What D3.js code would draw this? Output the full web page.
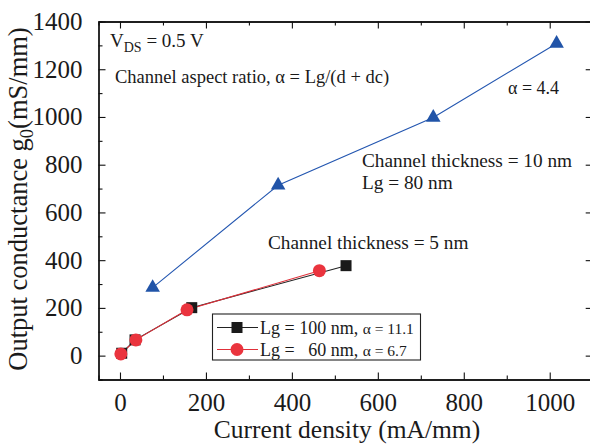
<!DOCTYPE html>
<html>
<head>
<meta charset="utf-8">
<script src="https://cdn.jsdelivr.net/npm/d3@7"></script>
<style>
  body { margin: 0; background: #fff; }
  svg { font-family: "Liberation Serif", "Times New Roman", serif; }
</style>
</head>
<body>
<div id="chart"></div>
<script>
// values
const blueX = [76, 368, 729, 1016];
const blueY = [285, 714, 998, 1308];
const blackX = [4, 35, 167, 526];
const blackY = [10, 66, 201, 377];
const redX = [2, 37, 156, 464];
const redY = [7, 66, 192, 356];

const xTicks = [0, 200, 400, 600, 800, 1000];
const xMinor = [100, 300, 500, 700, 900, 1100];
const yTicks = [0, 200, 400, 600, 800, 1000, 1200, 1400];
const yMinor = [-100, 100, 300, 500, 700, 900, 1100, 1300];

const legendLabels = ["Lg = 100 nm,", "Lg =\u00a0\u00a0 60 nm,"];
const legendAlpha = ["\u03b1 = 11.1", "\u03b1 = 6.7"];

const W = 590, H = 445;
const margin = { top: 21.5, right: -2.7, bottom: 65.5, left: 98.5 },
    width = W - margin.left - margin.right,
    height = H - margin.top - margin.bottom;

const svgRoot = d3.select("#chart")
    .append("svg")
    .attr("width", W)
    .attr("height", H);

const svg = svgRoot.append("g")
    .attr("transform", `translate(${margin.left}, ${margin.top})`);

const x = d3.scaleLinear().domain([-50, 1100]).range([0, width]);
const y = d3.scaleLinear().domain([-100, 1400]).range([height, 0]);

// frame + ticks (pointing inward)
function styleAxis(g) {
    g.select(".domain").attr("stroke", "#111").attr("stroke-width", 1.3);
    g.selectAll(".tick line").attr("stroke", "#111").attr("stroke-width", 1.1);
    g.selectAll("text").attr("font-size", 25).attr("fill", "#1a1a1a")
        .attr("font-family", "Liberation Serif, Times New Roman, serif");
}

svg.append("g")
    .attr("transform", `translate(0, ${height})`)
    .call(d3.axisBottom(x).tickValues(xTicks).tickSizeInner(-7).tickSizeOuter(0).tickPadding(14).tickFormat(d3.format("d")))
    .call(styleAxis);
svg.append("g")
    .attr("transform", `translate(0, ${height})`)
    .call(d3.axisBottom(x).tickValues(xMinor).tickSize(-4).tickFormat(""))
    .call(styleAxis);

svg.append("g")
    .call(d3.axisTop(x).tickValues(xTicks).tickSizeInner(-7).tickSizeOuter(0).tickFormat(""))
    .call(styleAxis);
svg.append("g")
    .call(d3.axisTop(x).tickValues(xMinor).tickSize(-4).tickFormat(""))
    .call(styleAxis);

svg.append("g")
    .call(d3.axisLeft(y).tickValues(yTicks).tickSizeInner(-7).tickSizeOuter(0).tickPadding(16).tickFormat(d3.format("d")))
    .call(styleAxis);
svg.append("g")
    .call(d3.axisLeft(y).tickValues(yMinor).tickSize(-4).tickFormat(""))
    .call(styleAxis);

svg.append("g")
    .attr("transform", `translate(${width}, 0)`)
    .call(d3.axisRight(y).tickValues(yTicks).tickSizeInner(-7).tickSizeOuter(0).tickFormat(""))
    .call(styleAxis);

// series
const blue = blueX.map((d, i) => ({ x: d, y: blueY[i] }));
const black = blackX.map((d, i) => ({ x: d, y: blackY[i] }));
const red = redX.map((d, i) => ({ x: d, y: redY[i] }));

const line = d3.line().x(d => x(d.x)).y(d => y(d.y));

svg.append("path").datum(blue)
    .attr("d", line).attr("fill", "none").attr("stroke", "#2356b0").attr("stroke-width", 1.1);
svg.append("path").datum(black)
    .attr("d", line).attr("fill", "none").attr("stroke", "#222").attr("stroke-width", 1.1);
svg.append("path").datum(red)
    .attr("d", line).attr("fill", "none").attr("stroke", "#e0303a").attr("stroke-width", 1.1);

const tri = d3.symbol().type(d3.symbolTriangle).size(92);
svg.selectAll(".tri").data(blue).join("path")
    .attr("class", "tri")
    .attr("d", tri)
    .attr("transform", d => `translate(${x(d.x)}, ${y(d.y)})`)
    .attr("fill", "#2154a8");

svg.selectAll(".sq").data(black).join("rect")
    .attr("class", "sq")
    .attr("x", d => x(d.x) - 5.5)
    .attr("y", d => y(d.y) - 5.5)
    .attr("width", 11).attr("height", 11)
    .attr("fill", "#1a1a1a");

svg.selectAll(".dot").data(red).join("circle")
    .attr("class", "dot")
    .attr("cx", d => x(d.x))
    .attr("cy", d => y(d.y))
    .attr("r", 6.5)
    .attr("fill", "#ea343e");

// annotations
const ann = svgRoot.append("g").attr("fill", "#1a1a1a");

const vds = ann.append("text").attr("x", 110).attr("y", 47).attr("font-size", 19);
vds.append("tspan").text("V");
vds.append("tspan").attr("font-size", 14).attr("dy", 5).text("DS");
vds.append("tspan").attr("dy", -5).text(" = 0.5 V");

ann.append("text").attr("x", 115).attr("y", 83).attr("font-size", 18.5)
    .text("Channel aspect ratio, \u03b1 = Lg/(d + dc)");

ann.append("text").attr("x", 508).attr("y", 94).attr("font-size", 18)
    .text("\u03b1 = 4.4");

ann.append("text").attr("x", 362).attr("y", 167).attr("font-size", 19.3)
    .text("Channel thickness = 10 nm");
ann.append("text").attr("x", 362).attr("y", 189).attr("font-size", 19.3)
    .text("Lg = 80 nm");

ann.append("text").attr("x", 268).attr("y", 249).attr("font-size", 19.3)
    .text("Channel thickness = 5 nm");

// legend
const leg = svgRoot.append("g");
leg.append("rect")
    .attr("x", 212.5).attr("y", 314).attr("width", 208).attr("height", 46)
    .attr("fill", "#fff").attr("stroke", "#222").attr("stroke-width", 1.1);

const legRows = [
    { color: "#222", mark: "sq" },
    { color: "#e0303a", mark: "dot" }
];
legRows.forEach((r, i) => {
    const cy = 327.5 + i * 22;
    leg.append("line").attr("x1", 217).attr("x2", 258).attr("y1", cy).attr("y2", cy)
        .attr("stroke", r.color).attr("stroke-width", 1.1);
    if (r.mark === "sq") {
        leg.append("rect").attr("x", 231.5).attr("y", cy - 5.5).attr("width", 11).attr("height", 11)
            .attr("fill", "#1a1a1a");
    } else {
        leg.append("circle").attr("cx", 237).attr("cy", cy).attr("r", 6.5).attr("fill", "#ea343e");
    }
    const t = leg.append("text").attr("x", 260).attr("y", cy + 6).attr("font-size", 18).attr("fill", "#1a1a1a");
    t.append("tspan").text(legendLabels[i] + " ");
    t.append("tspan").attr("font-size", 15.5).text(legendAlpha[i]);
});

// axis titles
svgRoot.append("text")
    .attr("x", 347).attr("y", 438)
    .attr("text-anchor", "middle")
    .attr("font-size", 25.5)
    .attr("fill", "#1a1a1a")
    .text("Current density (mA/mm)");

const yt = svgRoot.append("text")
    .attr("transform", "translate(27, 199) rotate(-90)")
    .attr("text-anchor", "middle")
    .attr("font-size", 26.5)
    .attr("fill", "#1a1a1a");
yt.append("tspan").text("Output conductance g");
yt.append("tspan").attr("font-size", 18.5).attr("dy", 6).text("0");
yt.append("tspan").attr("dy", -6).text("(mS/mm)");
</script>
</body>
</html>
